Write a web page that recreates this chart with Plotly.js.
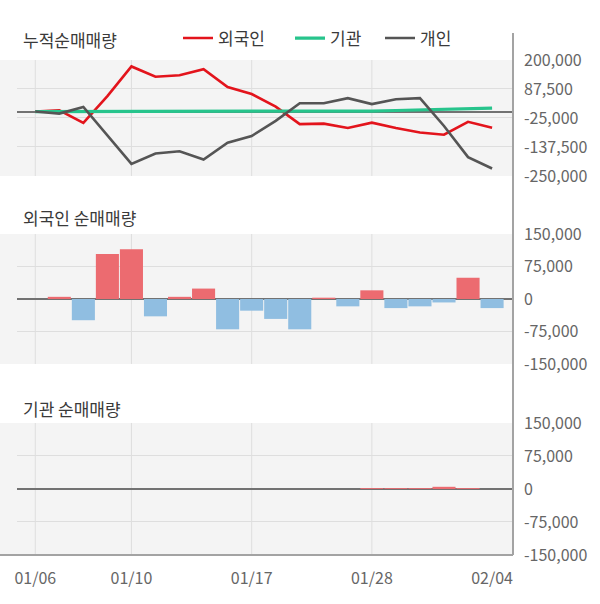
<!DOCTYPE html>
<html>
<head>
<meta charset="utf-8">
<script src="https://cdn.plot.ly/plotly-3.0.1.min.js"></script>
<style>html,body{margin:0;padding:0;background:#fff;}#chart{width:600px;height:604px;}</style>
</head>
<body>
<div id="chart"></div>
<script>
// ---- data ----
const dates = ['01/06','01/07','01/08','01/09','01/10','01/13','01/14','01/15','01/16','01/17',
               '01/20','01/21','01/22','01/23','01/28','01/29','01/30','01/31','02/03','02/04'];
const tickDates = ['01/06','01/10','01/17','01/28','02/04'];
const gridDates = ['01/06','01/10','01/17','01/28'];

// cumulative net purchases (top panel)
const foreignCum = [0, 5000, -44000, 60000, 175000, 135000, 141000, 164000, 95000, 68000,
                    19000, -49000, -47000, -64000, -43000, -64000, -81000, -90000, -40000, -63000];
const instCum    = [0, 0, 0, 0, 0, 0, 0, 0, 0, 0,
                    0, 0, 0, 0, 2000, 4000, 6000, 11000, 13000, 13000];
const indivCum   = [0, -8000, 18000, -92000, -203000, -163000, -154000, -186000, -121000, -95000,
                    -36000, 32000, 32000, 52000, 29000, 48000, 52000, -56000, -177000, -221000];

// daily net purchases
const foreignNet = [0, 5000, -49000, 104000, 115000, -40000, 5000, 24000, -70000, -27000,
                    -46000, -70000, 3000, -17000, 20000, -21000, -17000, -8000, 49000, -21000];
const instNet    = [0, 0, 0, 0, 0, 0, 0, 0, 0, 0,
                    0, 0, 0, 0, 2000, 2000, 2000, 5000, 2000, 0];

const topTicks = [200000, 87500, -25000, -137500, -250000];
const topTickText = ['200,000', '87,500', '-25,000', '-137,500', '-250,000'];
const barTicks = [150000, 75000, 0, -75000, -150000];
const barTickText = ['150,000', '75,000', '0', '-75,000', '-150,000'];

const names = ['외국인', '기관', '개인'];
const titles = ['누적순매매량', '외국인 순매매량', '기관 순매매량'];

// ---- styles ----
const RED = '#e3141c', GREEN = '#27c48c', DARK = '#555555';
const BAR_UP = '#ec6b70', BAR_DOWN = '#90bee1';
const FONT = '"Noto Sans CJK KR", "Noto Sans", sans-serif';
const GRID = '#dedede';
const BG = '#f4f4f4';

const barColors = v => v.map(x => x >= 0 ? BAR_UP : BAR_DOWN);

const traces = [
  {type:'scatter', mode:'lines', x:dates, y:foreignCum, name:names[0], xaxis:'x', yaxis:'y',
   line:{color:RED, width:2.6}, legend:'legend'},
  {type:'scatter', mode:'lines', x:dates, y:instCum, name:names[1], xaxis:'x', yaxis:'y',
   line:{color:GREEN, width:3.2}, legend:'legend2'},
  {type:'scatter', mode:'lines', x:dates, y:indivCum, name:names[2], xaxis:'x', yaxis:'y',
   line:{color:DARK, width:2.6}, legend:'legend3'},
  {type:'bar', x:dates, y:foreignNet, xaxis:'x2', yaxis:'y2', showlegend:false,
   marker:{color:barColors(foreignNet), line:{width:0}}},
  {type:'bar', x:dates, y:instNet, xaxis:'x3', yaxis:'y3', showlegend:false,
   marker:{color:barColors(instNet), line:{width:0}}}
];

const XR = [-0.76, 19.87];
const xBase = {type:'category', range:XR, showgrid:false, zeroline:false, showline:false,
               ticks:'', fixedrange:true};
const yBase = {side:'right', showline:false, ticks:'', gridcolor:GRID, gridwidth:1,
               zeroline:true, zerolinecolor:'#727272', zerolinewidth:2,
               tickfont:{family:FONT, size:16, color:'#666'}, ticklabelstandoff:10,
               fixedrange:true};

const D1 = [0.7657, 1], D2 = [0.3859, 0.6485], D3 = [0, 0.2667];
const LEFT = -17/496;

const shapes = [];
[['y', D1], ['y2', D2], ['y3', D3]].forEach(([ya, dom]) => {
  // grey strip left of the plot area
  shapes.push({type:'rect', xref:'paper', yref:'paper', x0:LEFT, x1:0, y0:dom[0], y1:dom[1],
               fillcolor:BG, line:{width:0}, layer:'below'});
  const xa = ya === 'y' ? 'x' : (ya === 'y2' ? 'x2' : 'x3');
  gridDates.forEach(d => shapes.push({type:'line', xref:xa, yref:ya + ' domain', x0:d, x1:d, y0:0, y1:1,
               line:{color:GRID, width:1}, layer:'below'}));
});
// bottom base line and right axis line
shapes.push({type:'line', xref:'paper', yref:'paper', x0:LEFT, x1:1, y0:0, y1:0,
             line:{color:'#a3a3a3', width:2}});
shapes.push({type:'line', xref:'paper', yref:'paper', x0:1, x1:1, y0:0, y1:1.0545,
             line:{color:'#a3a3a3', width:2}});

const titleY = [40, 217, 408];
const annotations = titles.map((t, i) => ({
  text:t, xref:'paper', yref:'paper', x:(21-17)/496, y:1 + (60 - titleY[i]) / 495,
  xanchor:'left', yanchor:'middle', showarrow:false,
  font:{family:FONT, size:17, color:'#3a3a3a'}
}));

const legFont = {family:FONT, size:17, color:'#3a3a3a'};
const legY = 1 + (60 - 38.5) / 495;
const mkLeg = px => ({x:(px - 17)/496, y:legY, xanchor:'left', yanchor:'middle',
                      orientation:'h', bgcolor:'rgba(0,0,0,0)', borderwidth:0,
                      font:legFont, itemwidth:30});

const layout = {
  width:600, height:604,
  margin:{l:17, r:87, t:60, b:49},
  paper_bgcolor:'#ffffff', plot_bgcolor:BG,
  bargap:0.04,
  showlegend:true,
  legend:mkLeg(178), legend2:mkLeg(290), legend3:mkLeg(380),
  xaxis:Object.assign({}, xBase, {anchor:'y', showticklabels:false}),
  xaxis2:Object.assign({}, xBase, {anchor:'y2', showticklabels:false, matches:'x'}),
  xaxis3:Object.assign({}, xBase, {anchor:'y3', matches:'x', showticklabels:true,
          tickmode:'array', tickvals:tickDates, ticktext:tickDates,
          tickfont:{family:FONT, size:16, color:'#666'}, ticklabelstandoff:12}),
  yaxis:Object.assign({}, yBase, {domain:D1, anchor:'x', range:[-250000, 200000],
          tickmode:'array', tickvals:topTicks, ticktext:topTickText}),
  yaxis2:Object.assign({}, yBase, {domain:D2, anchor:'x2', range:[-150000, 150000],
          tickmode:'array', tickvals:barTicks, ticktext:barTickText}),
  yaxis3:Object.assign({}, yBase, {domain:D3, anchor:'x3', range:[-150000, 150000],
          tickmode:'array', tickvals:barTicks, ticktext:barTickText}),
  shapes:shapes,
  annotations:annotations
};

Plotly.newPlot('chart', traces, layout, {staticPlot:true, displayModeBar:false});
</script>
</body>
</html>
